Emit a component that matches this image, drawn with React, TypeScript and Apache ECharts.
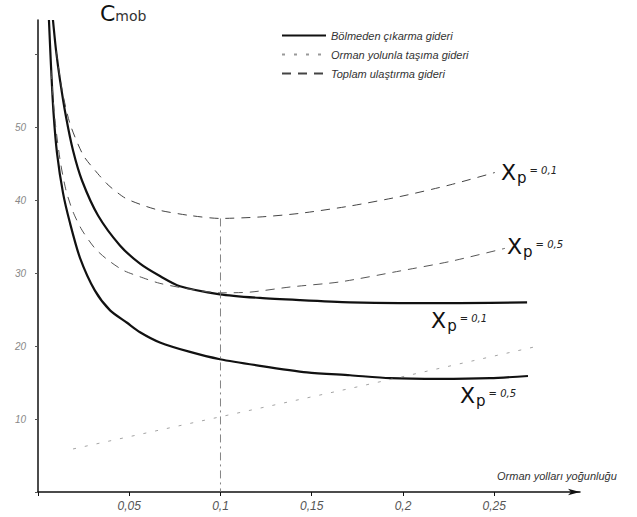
import React, { useEffect, useRef } from "react";
import * as echarts from "echarts";

// Road density (x) and cost (y) values
const xSolid01 = [0.0082, 0.0099, 0.0121, 0.0153, 0.0192, 0.0241, 0.0329, 0.0449, 0.0559, 0.0668, 0.0778, 0.0997, 0.1216, 0.1436, 0.171, 0.198, 0.231, 0.268];
const ySolid01 = [64.7, 60.5, 56.4, 51.5, 46.8, 42.7, 37.9, 33.8, 31.3, 29.6, 28.2, 27.1, 26.6, 26.3, 26.0, 25.9, 25.9, 26.0];

const xSolid05 = [0.006, 0.0071, 0.0085, 0.0104, 0.0137, 0.0175, 0.023, 0.0312, 0.0395, 0.0488, 0.0559, 0.0668, 0.0833, 0.0997, 0.1216, 0.1474, 0.171, 0.1929, 0.2203, 0.2477, 0.2685];
const ySolid05 = [64.7, 58.5, 52.0, 46.5, 41.0, 36.9, 32.1, 27.6, 24.9, 23.2, 21.9, 20.5, 19.2, 18.2, 17.3, 16.4, 16.0, 15.6, 15.5, 15.6, 15.9];

const xRoad = [0.0192, 0.0668, 0.1748, 0.2723];
const yRoad = [5.9, 8.5, 14.4, 19.9];

const xTotal01 = [0.0099, 0.0132, 0.0175, 0.0247, 0.0312, 0.0384, 0.0477, 0.0575, 0.0668, 0.0833, 0.0997, 0.1216, 0.1436, 0.171, 0.1984, 0.2258, 0.2504];
const yTotal01 = [60.5, 55.1, 50.5, 46.2, 44.1, 42.1, 40.3, 39.3, 38.6, 37.9, 37.5, 37.7, 38.2, 39.2, 40.5, 42.1, 43.8];

const xTotal05 = [0.0071, 0.0093, 0.0121, 0.0153, 0.0192, 0.0241, 0.0312, 0.0378, 0.0466, 0.0559, 0.0668, 0.0833, 0.0997, 0.1162, 0.1381, 0.1655, 0.1984, 0.2258, 0.2559];
const yTotal05 = [57.8, 51.0, 45.5, 41.4, 38.4, 35.9, 33.4, 31.9, 30.4, 29.5, 28.6, 27.8, 27.3, 27.4, 28.1, 28.8, 30.3, 31.6, 33.4];

const xGuide = [0.1, 0.1];
const yGuide = [37.5, 0];

const legendNames = ["Bölmeden çıkarma gideri", "Orman yolunla taşıma gideri", "Toplam ulaştırma gideri"];
const curveLabels = ["= 0,1", "= 0,5"];
const xAxisTitle = "Orman yolları yoğunluğu";
const yAxisTitleMain = "C";
const yAxisTitleSub = "mob";

const zip = (xs: number[], ys: number[]) => xs.map((x, i) => [x, ys[i]]);

const richLabel = {
  x: { fontSize: 22, fontFamily: "DejaVu Sans", color: "#111", lineHeight: 30, verticalAlign: "middle" },
  p: { fontSize: 15, fontFamily: "DejaVu Sans", color: "#111", padding: [12, 0, 0, 1] },
  e: { fontSize: 10, fontFamily: "DejaVu Sans", fontStyle: "italic", color: "#222", padding: [0, 0, 4, 3] },
};

const makeEndLabel = (txt: string, offset: number[]) => ({
  show: true,
  formatter: `{x|X}{p|p}{e|${txt}}`,
  offset,
  rich: richLabel,
});

const SMOOTH = 0.25;

export default function App() {
  const ref = useRef<HTMLDivElement>(null);
  useEffect(() => {
    if (!ref.current) return;
    const chart = echarts.init(ref.current, undefined, { renderer: "svg" });
    const font = "Liberation Sans";
    chart.setOption({
      animation: false,
      backgroundColor: "#ffffff",
      grid: { left: 38, right: 57, top: 20, bottom: 25, containLabel: false },
      legend: {
        data: legendNames,
        orient: "vertical",
        left: 276,
        top: 25,
        itemWidth: 44,
        itemHeight: 10,
        itemGap: 8,
        selectedMode: false,
        itemStyle: { color: "rgba(0,0,0,0)", borderWidth: 0, opacity: 0 },
        textStyle: { fontFamily: font, fontStyle: "italic", fontSize: 11, color: "#333" },
      },
      xAxis: {
        type: "value",
        min: 0,
        max: 0.297,
        interval: 0.05,
        splitLine: { show: false },
        axisLine: { show: true, onZero: false, symbol: ["none", "arrow"], symbolSize: [5, 12], lineStyle: { color: "#111", width: 1.5 } },
        axisTick: { show: true, length: 4, lineStyle: { color: "#111" } },
        axisLabel: {
          margin: 8,
          fontFamily: font,
          fontStyle: "italic",
          fontSize: 12,
          color: "#555",
          showMaxLabel: false,
          formatter: (v: number) => (v === 0 || v > 0.27 ? "" : String(Number(v.toFixed(2))).replace(".", ",")),
        },
      },
      yAxis: {
        type: "value",
        min: 0,
        max: 64.7,
        interval: 10,
        splitLine: { show: false },
        axisLine: { show: true, onZero: false, lineStyle: { color: "#111", width: 1.5 } },
        axisTick: { show: true, length: 3, lineStyle: { color: "#555" } },
        axisLabel: {
          margin: 12,
          fontFamily: font,
          fontStyle: "italic",
          fontSize: 10,
          color: "#888",
          showMaxLabel: false,
          formatter: (v: number) => (v === 0 || v > 55 ? "" : String(v)),
        },
      },
      graphic: [
        {
          type: "text",
          left: 497,
          top: 470,
          style: { text: xAxisTitle, fontFamily: font, fontStyle: "italic", fontSize: 11, fill: "#333" },
        },
        {
          type: "text",
          left: 100,
          top: 2,
          style: {
            text: `{c|${yAxisTitleMain}}{m|${yAxisTitleSub}}`,
            rich: {
              c: { fontFamily: "DejaVu Sans", fontSize: 22, fill: "#111" },
              m: { fontFamily: "DejaVu Sans", fontSize: 14, fill: "#333", padding: [6, 0, 0, 0] },
            },
          },
        },
      ],
      series: [
        {
          name: legendNames[0],
          type: "line",
          data: zip(xSolid01, ySolid01),
          showSymbol: false,
          symbol: "none",
          smooth: SMOOTH,
          clip: false,
          color: "#111",
          lineStyle: { color: "#111", width: 2.2 },
          endLabel: makeEndLabel(curveLabels[0], [-104, 18]),
        },
        {
          name: legendNames[0],
          type: "line",
          data: zip(xSolid05, ySolid05),
          showSymbol: false,
          symbol: "none",
          smooth: SMOOTH,
          clip: false,
          color: "#111",
          lineStyle: { color: "#111", width: 2.2 },
          endLabel: makeEndLabel(curveLabels[1], [-76, 19]),
        },
        {
          name: legendNames[1],
          type: "line",
          data: zip(xRoad, yRoad),
          showSymbol: false,
          symbol: "none",
          color: "#999",
          lineStyle: { color: "#999", width: 0.9, type: [3, 9] },
        },
        {
          name: legendNames[2],
          type: "line",
          data: zip(xTotal01, yTotal01),
          showSymbol: false,
          symbol: "none",
          smooth: SMOOTH,
          color: "#444",
          lineStyle: { color: "#444", width: 1, type: [9, 7] },
          endLabel: makeEndLabel(curveLabels[0], [-2, 0]),
        },
        {
          name: legendNames[2],
          type: "line",
          data: zip(xTotal05, yTotal05),
          showSymbol: false,
          symbol: "none",
          smooth: SMOOTH,
          color: "#444",
          lineStyle: { color: "#555", width: 1, type: [9, 7] },
          endLabel: makeEndLabel(curveLabels[1], [-6, -2]),
        },
        {
          name: "guide",
          type: "line",
          data: zip(xGuide, yGuide),
          showSymbol: false,
          symbol: "none",
          color: "#777",
          lineStyle: { color: "#777", width: 0.9, type: [8, 4, 2, 4] },
        },
      ],
    });
    return () => chart.dispose();
  }, []);
  return <div ref={ref} style={{ position: "absolute", left: 0, top: 0, width: 637, height: 517, background: "#fff" }} />;
}
